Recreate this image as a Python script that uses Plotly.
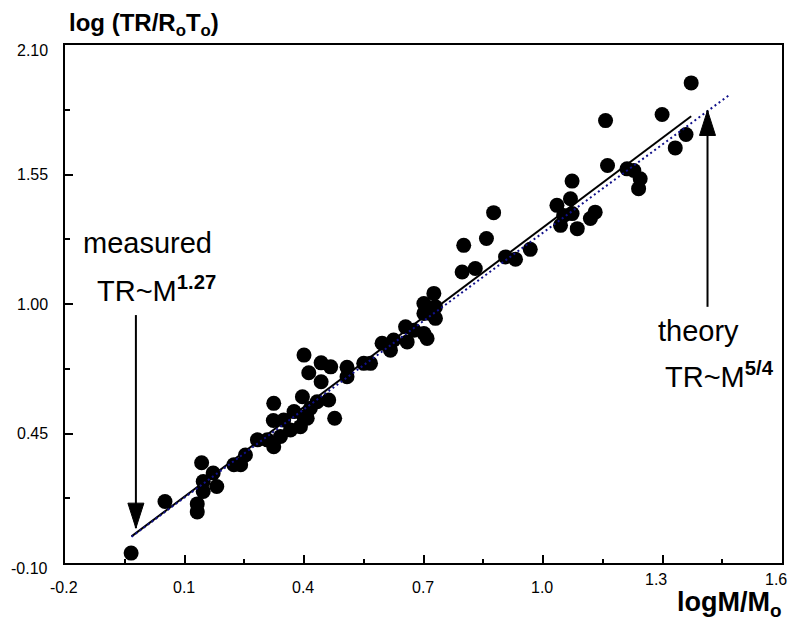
import numpy as np
import plotly.graph_objects as go

# ---------------- data ----------------
log_m = [-0.034, 0.051, 0.132, 0.132, 0.143, 0.147, 0.172, 0.181, 0.147, 0.224,
         0.241, 0.253, 0.283, 0.308, 0.324, 0.341, 0.366, 0.323, 0.349, 0.375,
         0.400, 0.396, 0.324, 0.391, 0.408, 0.416, 0.433, 0.462, 0.477, 0.400,
         0.412, 0.443, 0.467, 0.443, 0.508, 0.508, 0.550, 0.567, 0.596, 0.625,
         0.617, 0.659, 0.655, 0.676, 0.701, 0.709, 0.701, 0.726, 0.730, 0.717,
         0.701, 0.730, 0.797, 0.830, 0.801, 0.858, 0.876, 0.906, 0.931, 0.968,
         1.035, 1.069, 1.073, 1.052, 1.073, 1.044, 1.086, 1.119, 1.131, 1.157,
         1.162, 1.211, 1.228, 1.244, 1.240, 1.299, 1.332, 1.359, 1.372]
log_tr = [-0.058, 0.161, 0.151, 0.117, 0.326, 0.246, 0.282, 0.225, 0.204, 0.317,
          0.317, 0.359, 0.423, 0.423, 0.394, 0.437, 0.465, 0.505, 0.507, 0.543,
          0.521, 0.606, 0.578, 0.479, 0.515, 0.557, 0.585, 0.592, 0.515, 0.783,
          0.708, 0.750, 0.733, 0.670, 0.731, 0.691, 0.748, 0.748, 0.833, 0.847,
          0.804, 0.839, 0.903, 0.889, 0.875, 0.854, 1.002, 1.045, 0.988, 0.960,
          0.960, 0.939, 1.136, 1.151, 1.249, 1.278, 1.388, 1.200, 1.190, 1.232,
          1.419, 1.447, 1.522, 1.376, 1.384, 1.334, 1.320, 1.363, 1.390, 1.779,
          1.588, 1.574, 1.567, 1.532, 1.490, 1.805, 1.663, 1.720, 1.939]

# fitted power laws (log-log straight lines)
measured_slope, measured_intercept = 1.27, 0.055
measured_x = [-0.033, 1.372]
theory_slope, theory_intercept = 1.25, 0.053
theory_x = [-0.033, 1.468]

x_tick_vals = [-0.2, 0.1, 0.4, 0.7, 1.0, 1.3, 1.6]
x_tick_text = ["-0.2", "0.1", "0.4", "0.7", "1.0", "1.3", "1.6"]
y_tick_vals = [-0.10, 0.45, 1.00, 1.55, 2.10]
y_tick_text = ["-0.10", "0.45", "1.00", "1.55", "2.10"]

# ---------------- figure ----------------
FONT = "Liberation Sans, Arial, Helvetica, sans-serif"
fig = go.Figure()

fig.add_trace(go.Scatter(x=log_m, y=log_tr, mode="markers",
                         marker=dict(color="black", size=15, line=dict(width=0)),
                         showlegend=False, hoverinfo="x+y"))

mx = np.array(measured_x)
fig.add_trace(go.Scatter(x=mx, y=measured_intercept + measured_slope * mx, mode="lines",
                         line=dict(color="black", width=2), showlegend=False))
tx = np.array(theory_x)
fig.add_trace(go.Scatter(x=tx, y=theory_intercept + theory_slope * tx, mode="lines",
                         line=dict(color="#10108a", width=2, dash="2px,3px"),
                         showlegend=False))

# arrows (shaft + narrow filled head)
arrows = [  # x, tail y, tip y, direction
    (-0.022, 0.953, 0.048, -1),
    (1.413, 0.988, 1.822, 1),
]
shapes = []
for ax_, ytail, ytip, d in arrows:
    shapes.append(dict(type="line", xref="x", yref="y", x0=ax_, x1=ax_, y0=ytail, y1=ytip,
                       line=dict(color="black", width=2)))
    if d < 0:
        path = "M -8 25 L 8 25 L 0 0 Z"
    else:
        path = "M -8 -25 L 8 -25 L 0 0 Z"
    shapes.append(dict(type="path", xref="x", yref="y", xsizemode="pixel", ysizemode="pixel",
                       xanchor=ax_, yanchor=ytip, path=path,
                       fillcolor="black", line=dict(color="black", width=1)))

annotations = []
TICK_SIZE = 16
# x tick labels
x_shift = {1.3: (-6, 8), 1.6: (-5, 8)}
for v, t in zip(x_tick_vals, x_tick_text):
    dx, dy = x_shift.get(v, (0, 0))
    annotations.append(dict(x=v, y=0, xref="x", yref="paper", text=t, showarrow=False,
                            xanchor="center", yanchor="middle", xshift=dx - 1, yshift=-24 + dy,
                            font=dict(family=FONT, size=TICK_SIZE, color="black")))
# y tick labels
y_shift = {-0.10: -5, 2.10: -5}
for v, t in zip(y_tick_vals, y_tick_text):
    annotations.append(dict(x=0, y=v, xref="paper", yref="y", text=t, showarrow=False,
                            xanchor="right", yanchor="middle", xshift=-15,
                            yshift=y_shift.get(v, 0),
                            font=dict(family=FONT, size=TICK_SIZE, color="black")))

# axis titles
annotations.append(dict(x=0, y=1, xref="paper", yref="paper",
                        text="<b>log (TR/R<sub>o</sub>T<sub>o</sub>)</b>", showarrow=False,
                        xanchor="left", yanchor="bottom", xshift=2, yshift=3,
                        font=dict(family=FONT, size=24, color="black")))
annotations.append(dict(x=1, y=0, xref="paper", yref="paper",
                        text="<b>logM/M<sub>o</sub></b>", showarrow=False,
                        xanchor="right", yanchor="top", xshift=2, yshift=-22,
                        font=dict(family=FONT, size=27, color="black")))

# in-plot labels
lab_font = dict(family=FONT, size=29, color="black")
annotations += [
    dict(x=-0.161, y=1.257, xref="x", yref="y", text="measured", showarrow=False,
         xanchor="left", yanchor="middle", font=lab_font),
    dict(x=-0.125, y=1.065, xref="x", yref="y", text="TR~M<sup><b>1.27</b></sup>",
         showarrow=False, xanchor="left", yanchor="middle", font=lab_font),
    dict(x=1.284, y=0.885, xref="x", yref="y", text="theory", showarrow=False,
         xanchor="left", yanchor="middle", font=lab_font),
    dict(x=1.302, y=0.70, xref="x", yref="y", text="TR~M<sup><b>5/4</b></sup>",
         showarrow=False, xanchor="left", yanchor="middle", font=lab_font),
]

axis_common = dict(showgrid=False, zeroline=False, showline=True, linecolor="black",
                   linewidth=2, mirror=True, ticks="inside", ticklen=8, tickwidth=1.5,
                   tickcolor="black", showticklabels=False)

# page body has an 8px margin, so the figure is sized/offset to land on the same pixels
fig.update_layout(
    width=790, height=619,
    margin=dict(l=57, r=16, t=37, b=64),
    paper_bgcolor="white", plot_bgcolor="white",
    xaxis=dict(range=[-0.2, 1.6], tickmode="array", tickvals=x_tick_vals,
               minor=dict(ticks="inside", ticklen=4, tickwidth=1.5, tickcolor="black",
                          tickmode="linear", tick0=-0.2, dtick=0.15),
               **axis_common),
    yaxis=dict(range=[-0.1, 2.1], tickmode="array", tickvals=y_tick_vals,
               minor=dict(ticks="inside", ticklen=5, tickwidth=1.5, tickcolor="black",
                          tickmode="linear", tick0=-0.1, dtick=0.275),
               **axis_common),
    shapes=shapes,
    annotations=annotations,
    font=dict(family=FONT),
)

fig.write_html("out.html")
